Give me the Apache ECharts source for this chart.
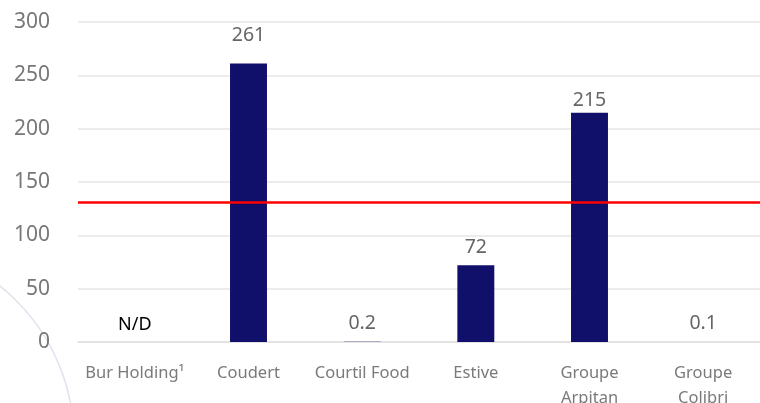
<!DOCTYPE html>
<html>
<head>
<meta charset="utf-8">
<script src="https://cdn.jsdelivr.net/npm/echarts@6/dist/echarts.min.js"></script>
<style>
  html, body { margin: 0; padding: 0; background: #fff; }
  #chart { width: 760px; height: 403px; }
</style>
</head>
<body>
<div id="chart"></div>
<script>
// données
const categories = ['Bur Holding¹', 'Coudert', 'Courtil Food', 'Estive', 'Groupe\nArpitan', 'Groupe\nColibri'];
const values = [0, 261, 0.2, 72, 215, 0.1];
const valueLabels = ['N/D', '261', '0.2', '72', '215', '0.1'];
const refLine = 131;
const yTicks = [0, 50, 100, 150, 200, 250, 300];

// petits décalages des étiquettes, comme sur l'original
const labelNudge = { 'Coudert': -10, 'Groupe\nArpitan': 6 };

const chart = echarts.init(document.getElementById('chart'), null, { renderer: 'canvas' });

const font = '"Noto Sans", "DejaVu Sans", sans-serif';

const seriesData = values.map((v, i) => {
  const item = { value: v, label: {} };
  if (valueLabels[i] === 'N/D') {
    item.label.color = '#000';
    item.label.fontSize = 18;
  }
  if (labelNudge[categories[i]]) {
    item.label.offset = [0, labelNudge[categories[i]]];
  }
  return item;
});

chart.setOption({
  animation: false,
  textStyle: { fontFamily: font },
  graphic: [{
    type: 'circle',
    shape: { cx: -123, cy: 440, r: 197 },
    style: { fill: 'none', stroke: '#e2e2ef', lineWidth: 1.5 },
    z: -1
  }],
  grid: { left: 78, right: 0, top: 22, bottom: 61, containLabel: false, outerBoundsMode: 'none' },
  xAxis: {
    type: 'category',
    data: categories,
    axisTick: { show: false },
    axisLine: { lineStyle: { color: '#e0e0e0', width: 1.5 } },
    axisLabel: { color: '#7a7a7a', fontSize: 16.5, lineHeight: 25, margin: 19, interval: 0, fontFamily: font }
  },
  yAxis: {
    type: 'value',
    min: yTicks[0],
    max: yTicks[yTicks.length - 1],
    interval: 50,
    axisLine: { show: false },
    axisTick: { show: false },
    splitLine: { lineStyle: { color: '#e6e6e6', width: 1.5 } },
    axisLabel: { color: '#777', fontSize: 21, margin: 28, fontFamily: font }
  },
  series: [{
    type: 'bar',
    data: seriesData,
    barWidth: '32.5%',
    itemStyle: { color: '#100f6a' },
    label: {
      show: true,
      position: 'top',
      distance: 8,
      color: '#666',
      fontSize: 19.5,
      fontFamily: font,
      formatter: p => valueLabels[p.dataIndex]
    },
    markLine: {
      silent: true,
      symbol: 'none',
      label: { show: false },
      lineStyle: { color: '#ff0000', width: 2.5, type: 'solid' },
      data: [{ yAxis: refLine }]
    }
  }]
});
</script>
</body>
</html>
